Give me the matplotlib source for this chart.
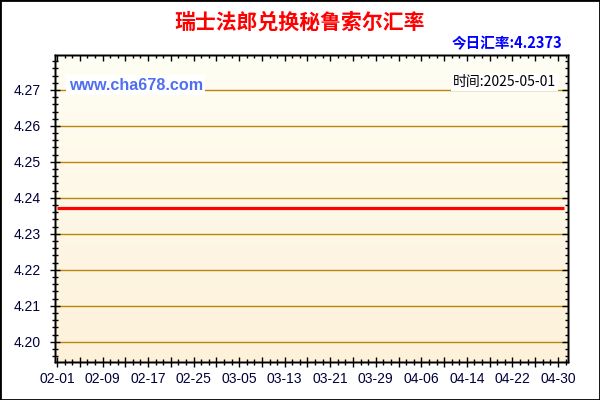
import matplotlib
matplotlib.use("Agg")
import matplotlib.pyplot as plt
import matplotlib.dates as mdates
from matplotlib.colors import LinearSegmentedColormap
from matplotlib.patches import Rectangle
import numpy as np
from datetime import datetime

plt.rcParams['font.family'] = ['Liberation Sans', 'Noto Sans CJK SC', 'DejaVu Sans']

# texts
title = "瑞士法郎兑换秘鲁索尔汇率"
today_rate = "今日汇率:4.2373"
stamp = "时间:2025-05-01"
site = "www.cha678.com"

# data (flat rate over the period)
dates = ["2025-02-01", "2025-05-01"]
rates = [4.2373, 4.2373]

tick_labels = ["02-01", "02-09", "02-17", "02-25", "03-05", "03-13",
               "03-21", "03-29", "04-06", "04-14", "04-22", "04-30"]
y_ticks = [4.20, 4.21, 4.22, 4.23, 4.24, 4.25, 4.26, 4.27]

x = mdates.date2num([datetime.strptime(d, "%Y-%m-%d") for d in dates])
lab_pos = mdates.date2num([datetime.strptime("2025-" + t, "%Y-%m-%d") for t in tick_labels])

fig = plt.figure(figsize=(6, 4), dpi=100)
ax = fig.add_axes([55/600, 1-362/400, 513/600, 307/400])

x0 = lab_pos[0] - 0.35
x1 = lab_pos[-1] + 1.76
ax.set_xlim(x0, x1)
ax.set_ylim(4.1944, 4.2797)

# background gradient
cmap = LinearSegmentedColormap.from_list("bg", ["#FFFEF4", "#FDF1D9"])
ax.imshow(np.linspace(0, 1, 256).reshape(-1, 1), cmap=cmap, aspect='auto',
          extent=[0, 1, 0, 1], transform=ax.transAxes, zorder=0)

for yv in y_ticks:
    ax.axhline(yv, color='#B8860B', lw=1, zorder=1)

ax.plot(x, rates, color='#FF0000', lw=2.3, zorder=3, solid_capstyle='butt')

# x ticks: labelled every 8 days, plain ticks halfway, minor between
major_x = []
major_lab = []
for i, p in enumerate(lab_pos):
    major_x.append(p)
    major_lab.append(tick_labels[i])
    if i < len(lab_pos) - 1:
        major_x.append(p + 4)
        major_lab.append("")
minor_x = np.arange(lab_pos[0], x1, 4/3)
ax.set_xticks(major_x)
ax.set_xticklabels(major_lab)
ax.set_xticks(minor_x, minor=True)

ax.set_yticks(y_ticks)
ax.set_yticklabels([f"{v:.2f}" for v in y_ticks])
ax.set_yticks(np.arange(4.196, 4.2797, 0.002), minor=True)

ax.tick_params(which='major', direction='inout', length=7, width=1,
               labelsize=10, labelcolor='#00003a')
ax.tick_params(which='minor', direction='inout', length=4, width=1)
ax.tick_params(axis='y', which='major', pad=7)
ax.tick_params(axis='x', which='major', pad=4)

# top / right inward ticks
axt = ax.twiny()
axt.set_xlim(ax.get_xlim())
axt.set_xticks(major_x)
axt.set_xticks(minor_x, minor=True)
axt.set_xticklabels([])
axt.tick_params(which='major', direction='in', length=4, width=1)
axt.tick_params(which='minor', direction='in', length=2.5, width=1)
axr = ax.twinx()
axr.set_ylim(ax.get_ylim())
axr.set_yticks(y_ticks)
axr.set_yticks(np.arange(4.196, 4.2797, 0.002), minor=True)
axr.set_yticklabels([])
axr.tick_params(which='major', direction='in', length=4, width=1)
axr.tick_params(which='minor', direction='in', length=2.5, width=1)

for a in (ax, axt, axr):
    for s in a.spines.values():
        s.set_linewidth(1)
        s.set_color('black')

ax.text(0.027, 0.902, site, transform=ax.transAxes, ha='left', va='center',
        fontsize=11.6, fontweight='bold', color='#4f6ff0', zorder=5,
        bbox=dict(boxstyle='square,pad=0.15', fc='white', ec='none'))
ax.text(0.977, 0.912, stamp, transform=ax.transAxes, ha='right', va='center',
        fontsize=10, color='black', zorder=5,
        family=['Noto Sans CJK SC', 'DejaVu Sans'],
        bbox=dict(boxstyle='square,pad=0.15', fc='white', ec='none'))

fig.text(0.5, 0.945, title, ha='center', va='center', fontsize=15,
         fontweight='bold', color='#FF0000', family=['Noto Sans CJK SC'])
fig.text(0.938, 0.8925, today_rate, ha='right', va='center', fontsize=10.5,
         fontweight='bold', color='#0000FF', family=['Noto Sans CJK SC'])

fig.patches.append(Rectangle((0, 0), 1, 1, transform=fig.transFigure,
                             fill=False, ec='black', lw=2))

fig.savefig("out.png", dpi=100)
